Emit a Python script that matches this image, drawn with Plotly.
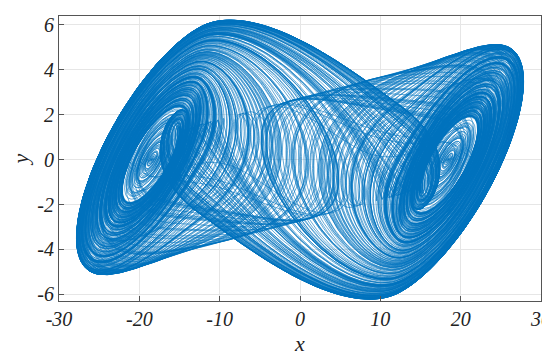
import numpy as np
import plotly.graph_objects as go

# Chua double-scroll system parameters
alpha, beta, m0, m1 = 15.6, 28.0, -1.143, -0.714
x_scale, y_scale = 12.3, 16.0
dt = 0.01
# several trajectories, each started next to one of the two equilibria (sign, x offset, steps)
starts = [(1, 0.01, 24000), (-1, -0.01, 24000),
          (1, 0.06, 5500), (-1, -0.06, 5500), (1, -0.10, 5500), (-1, 0.10, 5500),
          (1, 0.15, 5500), (-1, -0.15, 5500), (1, -0.20, 5500), (-1, 0.20, 5500),
          (1, 0.25, 5500), (-1, -0.25, 5500), (1, 0.32, 5500), (-1, -0.32, 5500)]

x_ticks = [-30, -20, -10, 0, 10, 20, 30]
y_ticks = [-6, -4, -2, 0, 2, 4, 6]

def f(s):
    x, y, z = s
    h = m1 * x + 0.5 * (m0 - m1) * (abs(x + 1) - abs(x - 1))
    return (alpha * (y - x - h), x - y + z, -beta * y)

p_eq = (m1 - m0) / (1 + m1)
X_all, Y_all = [], []
for sign, off, steps in starts:
    s = (sign * p_eq + off, 0.0, -sign * p_eq)
    xs = np.empty(steps); ys = np.empty(steps)
    for i in range(steps):
        k1 = f(s)
        k2 = f(tuple(s[j] + 0.5 * dt * k1[j] for j in range(3)))
        k3 = f(tuple(s[j] + 0.5 * dt * k2[j] for j in range(3)))
        k4 = f(tuple(s[j] + dt * k3[j] for j in range(3)))
        s = tuple(s[j] + dt / 6 * (k1[j] + 2 * k2[j] + 2 * k3[j] + k4[j]) for j in range(3))
        xs[i] = s[0]; ys[i] = s[1]
    X_all.append(xs * x_scale); Y_all.append(ys * y_scale)
    X_all.append(np.array([np.nan])); Y_all.append(np.array([np.nan]))

X = np.concatenate(X_all)
Y = np.concatenate(Y_all)

fig = go.Figure(go.Scatter(x=X, y=Y, mode="lines", connectgaps=False,
                           line=dict(color="#0072BD", width=0.6)))
axis_common = dict(showline=True, linecolor="#555", linewidth=1, mirror=True, ticks="inside", ticklen=5,
                   tickcolor="#555", showgrid=True, gridcolor="#e6e6e6", zeroline=False,
                   tickfont=dict(family="Liberation Serif", size=20, color="#222"))
fig.update_layout(
    width=550, height=360, margin=dict(l=51, r=17, t=6, b=67),
    paper_bgcolor="white", plot_bgcolor="white", showlegend=False,
    xaxis=dict(range=[-30, 30], tickvals=x_ticks, ticktext=[f"<i>{t}</i>" for t in x_ticks],
               title=dict(text="<i>x</i>", font=dict(family="Liberation Serif", size=22, color="#222"), standoff=6), **axis_common),
    yaxis=dict(range=[-6.3, 6.4], tickvals=y_ticks, ticktext=[f"<i>{t}</i>" for t in y_ticks],
               title=dict(text="<i>y</i>", font=dict(family="Liberation Serif", size=22, color="#222"), standoff=8), **axis_common),
)
fig.write_html("out.html")
